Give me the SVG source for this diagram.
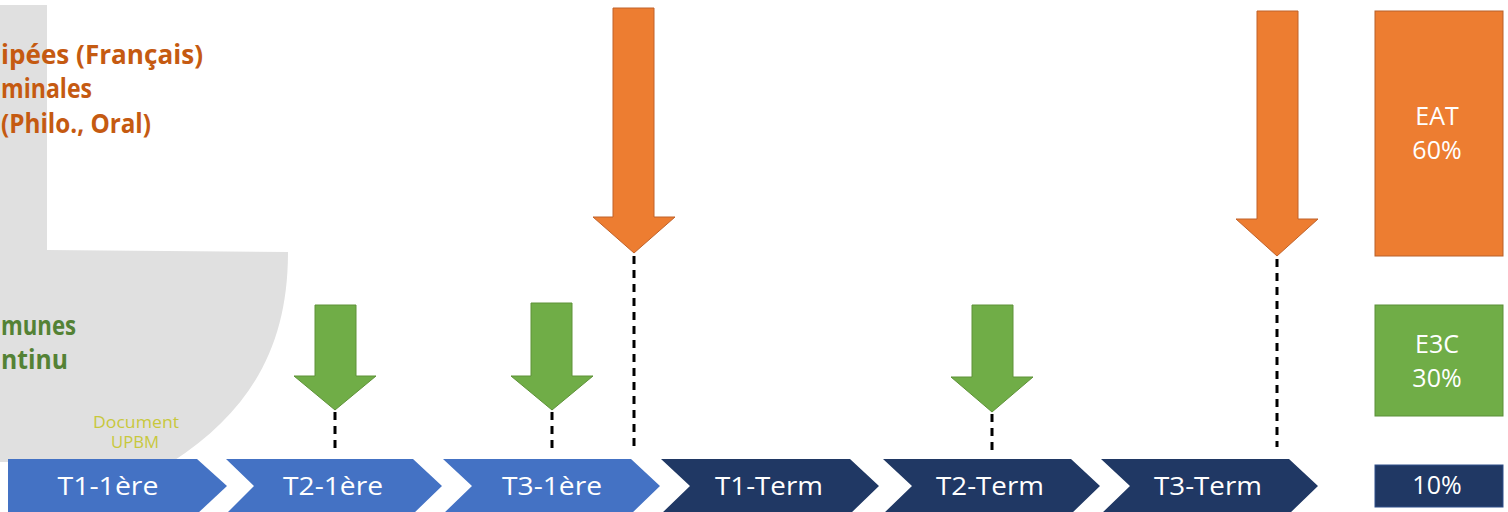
<svg xmlns="http://www.w3.org/2000/svg" width="1508" height="512" viewBox="0 0 1508 512">
<style>
.lbl{font-family:"Open Sans","Noto Sans","DejaVu Sans",sans-serif;fill:#ffffff;font-size:25px;text-anchor:middle}
.side{font-family:"Open Sans","Noto Sans","DejaVu Sans",sans-serif;font-weight:bold;font-size:26px}
.or{fill:#C55A11}
.gr{fill:#548235}
.oarrow{fill:#ED7D31;stroke:#C0622A;stroke-width:1}
.garrow{fill:#70AD47;stroke:#5E9238;stroke-width:1}
.light{fill:#4472C4}
.dark{fill:#203864}
.dash{stroke:#000;stroke-width:3;stroke-dasharray:8 6;fill:none}
</style>
<rect width="1508" height="512" fill="#ffffff"/>
<g id="background">
<path d="M0,5 L47,5 L47,250 L288,252 C288,345 252,410 172,462 L0,462 Z" fill="#E0E0E0"/>
</g>
<g id="left-texts">
<text class="side or" x="1" y="64" textLength="202" lengthAdjust="spacingAndGlyphs">ipées (Français)</text>
<text class="side or" x="1" y="98" textLength="91" lengthAdjust="spacingAndGlyphs">minales</text>
<text class="side or" x="1" y="133" textLength="150" lengthAdjust="spacingAndGlyphs">(Philo., Oral)</text>
<text class="side gr" x="1" y="335" textLength="75" lengthAdjust="spacingAndGlyphs">munes</text>
<text class="side gr" x="1" y="369" textLength="67" lengthAdjust="spacingAndGlyphs">ntinu</text>
<text x="136" y="428" font-family="Open Sans, sans-serif" font-size="16" fill="#C8C83C" text-anchor="middle" textLength="86" lengthAdjust="spacingAndGlyphs">Document</text>
<text x="135" y="448" font-family="Open Sans, sans-serif" font-size="16" fill="#C8C83C" text-anchor="middle" textLength="48" lengthAdjust="spacingAndGlyphs">UPBM</text>
</g>
<g id="connectors">
<line class="dash" x1="634" y1="256" x2="634" y2="447"/>
<line class="dash" x1="1277" y1="259" x2="1277" y2="447"/>
<line class="dash" x1="335" y1="412" x2="335" y2="453"/>
<line class="dash" x1="552" y1="412" x2="552" y2="454"/>
<line class="dash" x1="992" y1="414" x2="992" y2="454"/>
</g>
<g id="arrow-eat-1"><path class="oarrow" d="M613,8 H654 V217 H675 L634,253 L593,217 H613 Z"/></g>
<g id="arrow-eat-2"><path class="oarrow" d="M1257,11 H1298 V219 H1318 L1277,256 L1236,219 H1257 Z"/></g>
<g id="arrow-e3c-1"><path class="garrow" d="M315,305 H356 V376 H376 L335,410 L294,376 H315 Z"/></g>
<g id="arrow-e3c-2"><path class="garrow" d="M531,303 H572 V376 H593 L552,410 L511,376 H531 Z"/></g>
<g id="arrow-e3c-3"><path class="garrow" d="M972,305 H1013 V377 H1033 L992,412 L951,377 H972 Z"/></g>
<g id="t1-1ere"><path class="light" d="M8,459 H197 L227,486 L197,514 H8 Z"/><text class="lbl" x="108" y="495" textLength="101" lengthAdjust="spacingAndGlyphs">T1-1ère</text></g>
<g id="t2-1ere"><path class="light" d="M226,459 H413 L442,486 L413,514 H226 L254,486 Z"/><text class="lbl" x="333" y="495" textLength="100" lengthAdjust="spacingAndGlyphs">T2-1ère</text></g>
<g id="t3-1ere"><path class="light" d="M443,459 H631 L660,486 L631,514 H443 L472,486 Z"/><text class="lbl" x="552" y="495" textLength="100" lengthAdjust="spacingAndGlyphs">T3-1ère</text></g>
<g id="t1-term"><path class="dark" d="M661,459 H850 L879,486 L850,514 H661 L690,486 Z"/><text class="lbl" x="769" y="495" textLength="108" lengthAdjust="spacingAndGlyphs">T1-Term</text></g>
<g id="t2-term"><path class="dark" d="M883,459 H1071 L1100,486 L1071,514 H883 L912,486 Z"/><text class="lbl" x="990" y="495" textLength="108" lengthAdjust="spacingAndGlyphs">T2-Term</text></g>
<g id="t3-term"><path class="dark" d="M1101,459 H1289 L1318,486 L1289,514 H1101 L1130,486 Z"/><text class="lbl" x="1208" y="495" textLength="108" lengthAdjust="spacingAndGlyphs">T3-Term</text></g>
<g id="box-eat"><rect x="1375" y="11" width="128" height="245" fill="#ED7D31" stroke="#B8612A" stroke-width="1"/>
<text class="lbl" x="1437" y="125">EAT</text><text class="lbl" x="1437" y="159">60%</text></g>
<g id="box-e3c"><rect x="1375" y="305" width="128" height="111" fill="#70AD47" stroke="#5A8F38" stroke-width="1"/>
<text class="lbl" x="1437" y="353">E3C</text><text class="lbl" x="1437" y="387">30%</text></g>
<g id="box-10"><rect x="1375" y="465" width="128" height="42" fill="#203864" stroke="#2F4F8A" stroke-width="1"/>
<text class="lbl" x="1437" y="494">10%</text></g>
</svg>
